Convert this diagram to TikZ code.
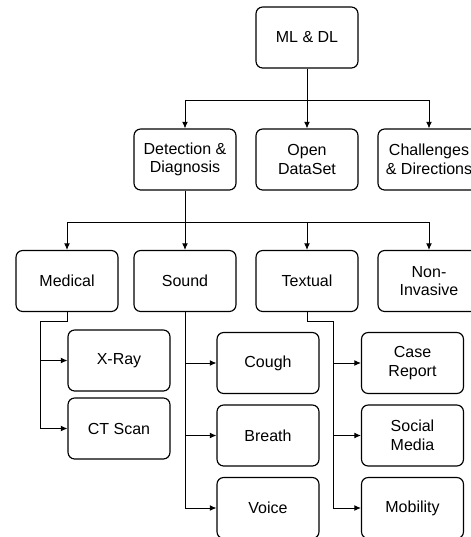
\documentclass[tikz,border=0pt]{standalone}
\usepackage{fontspec}
\setmainfont{Liberation Sans}
\usetikzlibrary{arrows.meta}

\tikzset{
  box/.style={draw, line width=0.85pt, rounded corners=5pt, align=center,
    minimum width=76.5pt, minimum height=45.75pt, inner sep=1pt,
    font=\fontsize{12pt}{14pt}\selectfont},
  arr/.style={line width=0.75pt, -{Latex[length=5pt,width=4.5pt]}},
  lnk/.style={line width=0.75pt}
}

\begin{document}
\begin{tikzpicture}[x=0.75pt,y=0.75pt,yscale=-1,xscale=1]
\useasboundingbox (0,0) rectangle (471,537);
\clip (0,0) rectangle (471,537);

% Top level
\node [box] (ml) at (307,37.5) {ML \& DL};

% Second level
\node [box] (det) at (185,159.5) {Detection \&\\Diagnosis};
\node [box] (open) at (307,159.5) {Open\\DataSet};
\node [box] (chal) at (429,159.5) {Challenges\\\& Directions};

% Third level
\node [box] (med) at (67,281) {Medical};
\node [box] (sound) at (185,281) {Sound};
\node [box] (text) at (307,281) {Textual};
\node [box] (noninv) at (429,281) {Non-\\Invasive};

% Fourth level
\node [box] (xray) at (119,360.5) {X-Ray};
\node [box] (ct) at (119,428.5) {CT Scan};
\node [box] (cough) at (268,363) {Cough};
\node [box] (breath) at (268,435.5) {Breath};
\node [box] (voice) at (268,508) {Voice};
\node [box] (case) at (412.5,363) {Case\\Report};
\node [box] (social) at (412.5,435.5) {Social\\Media};
\node [box] (mob) at (412.5,508) {Mobility};

% Branch points
\coordinate (b1) at (307,100);
\coordinate (b2) at (185,222);
\coordinate (m1) at (40,321);
\coordinate (t1) at (333,321);

% Connectors
\draw [arr] (ml) -- (open);
\draw [arr] (b1) -| (det);
\draw [arr] (b1) -| (chal);

\draw [arr] (det) -- (sound);
\draw [arr] (b2) -| (med);
\draw [arr] (b2) -| (text);
\draw [arr] (b2) -| (noninv);

\draw [lnk] (med.south) |- (m1);
\draw [arr] (m1) |- (xray);
\draw [arr] (m1) |- (ct);

\draw [arr] (sound.south) |- (cough);
\draw [arr] (sound.south) |- (breath);
\draw [arr] (sound.south) |- (voice);

\draw [lnk] (text.south) |- (t1);
\draw [arr] (t1) |- (case);
\draw [arr] (t1) |- (social);
\draw [arr] (t1) |- (mob);

\end{tikzpicture}
\end{document}
